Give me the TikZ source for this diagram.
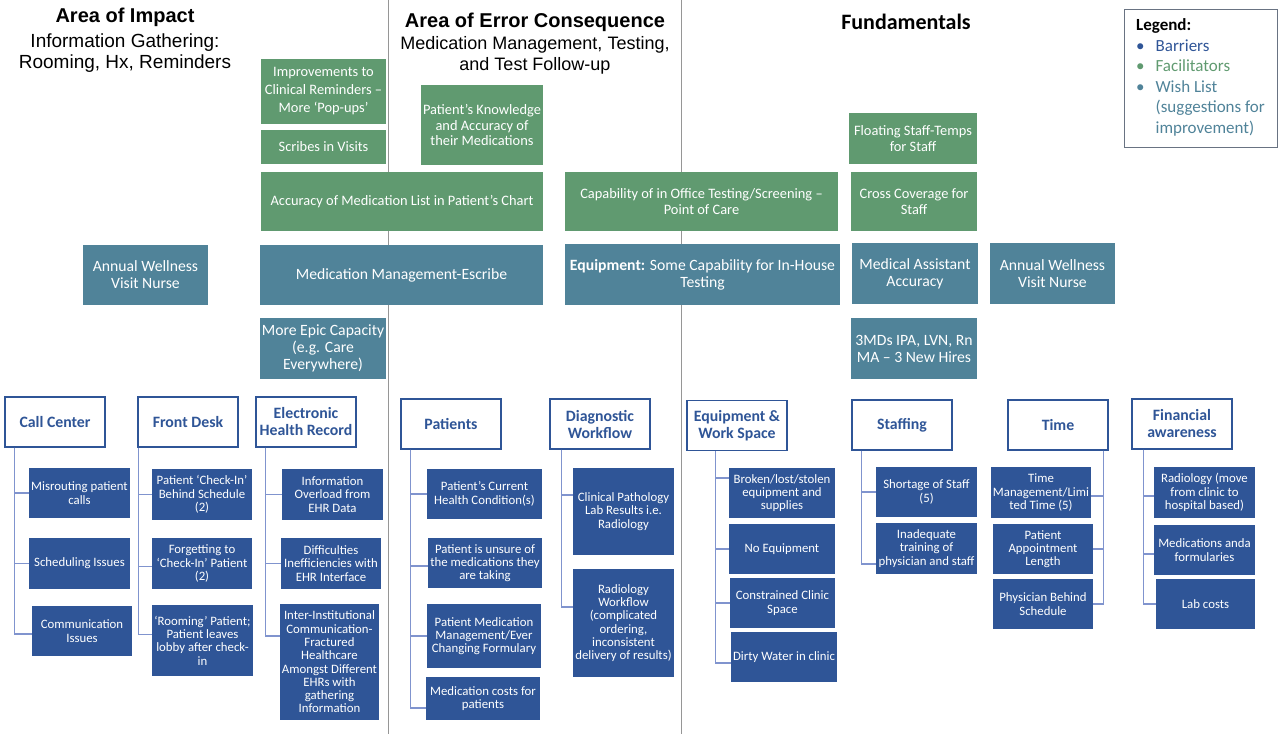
\documentclass[tikz,border=0pt]{standalone}
\usepackage{fontspec}
\setmainfont{Carlito}
\newfontfamily\headfont{Liberation Sans}
\definecolor{barrierblue}{RGB}{47,85,151}
\definecolor{facgreen}{RGB}{96,154,112}
\definecolor{wishteal}{RGB}{80,131,153}
\definecolor{connblue}{RGB}{128,148,206}
\definecolor{rulegray}{RGB}{150,150,150}
\definecolor{legendgray}{RGB}{105,115,130}

\tikzset{
  box/.style={rectangle,align=center,inner sep=1pt,text=white},
  conn/.style={draw=connblue,line width=1.3pt},
  divider/.style={draw=rulegray,line width=0.9pt}
}

\begin{document}
\begin{tikzpicture}[x=1pt, y=-1pt]
        \tikzstyle{barrier}=[box,fill=barrierblue,minimum width=101pt,minimum height=51pt,font=\fontsize{12.8}{13.3}\selectfont]
        \tikzstyle{facilitator}=[box,fill=facgreen,minimum width=125pt,minimum height=59pt,font=\fontsize{14.4}{15.8}\selectfont]
        \tikzstyle{wish}=[box,fill=wishteal,minimum width=125pt,minimum height=61pt,font=\fontsize{15.7}{17}\selectfont]
        \tikzstyle{category}=[box,draw=barrierblue,line width=1.2pt,fill=white,text=barrierblue,minimum width=100pt,minimum height=50pt,font=\bfseries\fontsize{15.8}{17}\selectfont]
        \tikzstyle{title}=[align=center,inner sep=0pt]

        \useasboundingbox (0,0) rectangle (1280,736);
        \draw[divider] (388,0) -- (388,734);
        \draw[divider] (681,0) -- (681,734);

        \node[title,font=\headfont\fontsize{19}{21}\selectfont] (T_1) at (125,40) {\fontsize{20}{21}\selectfont\bfseries Area of Impact\\[4pt]Information Gathering:\\Rooming, Hx, Reminders};
        \node[title,font=\headfont\fontsize{18}{21}\selectfont] (T_2) at (535,44) {\fontsize{20}{21}\selectfont\bfseries Area of Error Consequence\\[1pt]Medication Management, Testing,\\and Test Follow-up};
        \node[title,font=\bfseries\fontsize{22}{24}\selectfont] (T_3) at (906,22) {Fundamentals};

        \node[draw=legendgray,line width=1pt,minimum width=153pt,minimum height=138pt,inner sep=0pt,font=\fontsize{17}{20.5}\selectfont] (L) at (1200.5,78) {%
          \begin{tabular}{@{}l@{\hspace{11pt}}l@{}}
            \multicolumn{2}{@{}l@{}}{\textbf{Legend:}}\\
            \textcolor{barrierblue}{•} & \textcolor{barrierblue}{Barriers}\\
            \textcolor{facgreen}{•} & \textcolor{facgreen}{Facilitators}\\
            \textcolor{wishteal}{•} & \textcolor{wishteal}{Wish List}\\
             & \textcolor{wishteal}{(suggestions for}\\
             & \textcolor{wishteal}{improvement)}
          \end{tabular}};

        \node[facilitator,minimum height=65pt,font=\fontsize{14.4}{18}\selectfont] (G_1) at (323.5,91.5) {Improvements to\\Clinical Reminders –\\More ‘Pop-ups’};
        \node[facilitator,minimum height=34pt] (G_2) at (323.5,147) {Scribes in Visits};
        \node[facilitator,minimum width=122pt,minimum height=80pt] (G_3) at (482,125) {Patient’s Knowledge\\and Accuracy of\\their Medications};
        \node[facilitator,minimum width=282pt] (G_4) at (402,201.5) {Accuracy of Medication List in Patient’s Chart};
        \node[facilitator,minimum width=273pt] (G_5) at (701.5,201.5) {Capability of in Office Testing/Screening –\\Point of Care};
        \node[facilitator,minimum width=128pt,minimum height=51pt] (G_6) at (913,138.5) {Floating Staff-Temps\\for Staff};
        \node[facilitator,minimum width=126pt] (G_7) at (914,201.5) {Cross Coverage for\\Staff};

        \node[wish,minimum height=60pt] (W_1) at (145.5,275) {Annual Wellness\\Visit Nurse};
        \node[wish,minimum width=283pt,minimum height=60pt] (W_2) at (401.5,275) {Medication Management-Escribe};
        \node[wish,minimum width=275pt] (W_3) at (702.5,274.5) {\textbf{Equipment:} Some Capability for In-House\\Testing};
        \node[wish,minimum width=126pt] (W_4) at (915,273.5) {Medical Assistant\\Accuracy};
        \node[wish] (W_5) at (1052.5,273.5) {Annual Wellness\\Visit Nurse};
        \node[wish,minimum width=126pt] (W_6) at (323,348.5) {More Epic Capacity\\(e.g. Care\\Everywhere)};
        \node[wish,minimum width=126pt] (W_7) at (914,348.5) {3MDs IPA, LVN, Rn\\MA – 3 New Hires};

        \node[category] (CC) at (55,422) {Call Center};
        \node[category] (FD) at (188,422) {Front Desk};
        \node[category] (EH) at (306,422) {Electronic\\Health Record};
        \node[category] (PA) at (451,424) {Patients};
        \node[category] (DW) at (600,424) {Diagnostic\\Workflow};
        \node[category] (EW) at (737,425.5) {Equipment \&\\Work Space};
        \node[category] (ST) at (902,425) {Staffing};
        \node[category] (TI) at (1058,425) {Time};
        \node[category] (FA) at (1182,424) {Financial\\awareness};

        \node[barrier,minimum height=50pt] (CC_1) at (79.5,493) {Misrouting patient\\calls};
        \node[barrier] (CC_2) at (79.5,563.5) {Scheduling Issues};
        \node[barrier,minimum width=100pt,minimum height=50pt] (CC_3) at (82,631) {Communication\\Issues};

        \node[barrier,minimum width=100pt] (FD_1) at (202,494.5) {Patient ‘Check-In’\\Behind Schedule\\(2)};
        \node[barrier,minimum width=100pt] (FD_2) at (202,563.5) {Forgetting to\\‘Check-In’ Patient\\(2)};
        \node[barrier,minimum height=71pt] (FD_3) at (202.5,640.5) {‘Rooming’ Patient;\\Patient leaves\\lobby after check-\\in};

        \node[barrier] (EH_1) at (332.5,494.5) {Information\\Overload from\\EHR Data};
        \node[barrier,minimum width=100pt] (EH_2) at (331,563.5) {Difficulties\\Inefficiencies with\\EHR Interface};
        \node[barrier,minimum width=99pt,minimum height=116pt] (EH_3) at (329.5,662) {Inter-Institutional\\Communication-\\Fractured\\Healthcare\\Amongst Different\\EHRs with\\gathering\\Information};

        \node[barrier,minimum width=115pt,minimum height=50pt] (PA_1) at (484.5,494) {Patient’s Current\\Health Condition(s)};
        \node[barrier,minimum width=114pt,minimum height=50pt] (PA_2) at (485,563) {Patient is unsure of\\the medications they\\are taking};
        \node[barrier,minimum width=114pt,minimum height=64pt] (PA_3) at (484,636) {Patient Medication\\Management/Ever\\Changing Formulary};
        \node[barrier,minimum width=114pt,minimum height=43pt] (PA_4) at (483,698.5) {Medication costs for\\patients};

        \node[barrier,minimum height=87pt] (DW_1) at (623.5,511.5) {Clinical Pathology\\Lab Results i.e.\\Radiology};
        \node[barrier,minimum height=108pt] (DW_2) at (623.5,623) {Radiology\\Workflow\\(complicated\\ordering,\\inconsistent\\delivery of results)};

        \node[barrier,minimum width=106pt,minimum height=50pt] (EW_1) at (782,493) {Broken/lost/stolen\\equipment and\\supplies};
        \node[barrier,minimum width=106pt,minimum height=50pt] (EW_2) at (782,549) {No Equipment};
        \node[barrier,minimum width=105pt,minimum height=50pt] (EW_3) at (782.5,603) {Constrained Clinic\\Space};
        \node[barrier,minimum width=106pt,minimum height=50pt] (EW_4) at (784,657) {Dirty Water in clinic};

        \node[barrier,minimum height=50pt] (ST_1) at (926.5,492) {Shortage of Staff\\(5)};
        \node[barrier] (ST_2) at (926.5,548.5) {Inadequate\\training of\\physician and staff};

        \node[barrier,minimum width=100pt] (TI_1) at (1041,492.5) {Time\\Management/Limi\\ted Time (5)};
        \node[barrier,minimum width=100pt,minimum height=50pt] (TI_2) at (1043,549) {Patient\\Appointment\\Length};
        \node[barrier,minimum width=100pt,minimum height=50pt] (TI_3) at (1043,604) {Physician Behind\\Schedule};

        \node[barrier] (FA_1) at (1204.5,492.5) {Radiology (move\\from clinic to\\hospital based)};
        \node[barrier,minimum height=50pt] (FA_2) at (1204.5,550) {Medications anda\\formularies};
        \node[barrier,minimum width=99pt,minimum height=50pt] (FA_3) at (1205.5,604) {Lab costs};

        \foreach \c/\d in {1/0,2/0,3/-3}
          \draw[conn] ([xshift=10pt]CC.south west) |- ([yshift=\d pt]CC_\c.west);
        \foreach \c/\d in {1/0,2/-3,3/6}
          \draw[conn] ([xshift=1pt]FD.south west) |- ([yshift=\d pt]FD_\c.west);
        \foreach \c/\d in {1/0,2/0,3/26}
          \draw[conn] ([xshift=10pt]EH.south west) |- ([yshift=\d pt]EH_\c.west);
        \foreach \c/\d in {1/0,2/-3,3/0,4/-9.5}
          \draw[conn] ([xshift=10pt]PA.south west) |- ([yshift=\d pt]PA_\c.west);
        \foreach \c/\d in {1/16.5,2/16}
          \draw[conn] ([xshift=12pt]DW.south west) |- ([yshift=\d pt]DW_\c.west);
        \foreach \c/\d in {1/15,2/0,3/0,4/-6}
          \draw[conn] ([xshift=29pt]EW.south west) |- ([yshift=\d pt]EW_\c.west);
        \foreach \c/\d in {1/0,2/-15.5}
          \draw[conn] ([xshift=10pt]ST.south west) |- ([yshift=\d pt]ST_\c.west);
        \foreach \c/\d in {1/-3.5,2/0,3/0}
          \draw[conn] ([xshift=-5pt]TI.south east) |- ([yshift=\d pt]TI_\c.east);
        \foreach \c/\d in {1/-3.5,2/-4,3/0}
          \draw[conn] ([xshift=12pt]FA.south west) |- ([yshift=\d pt]FA_\c.west);
\end{tikzpicture}
\end{document}
